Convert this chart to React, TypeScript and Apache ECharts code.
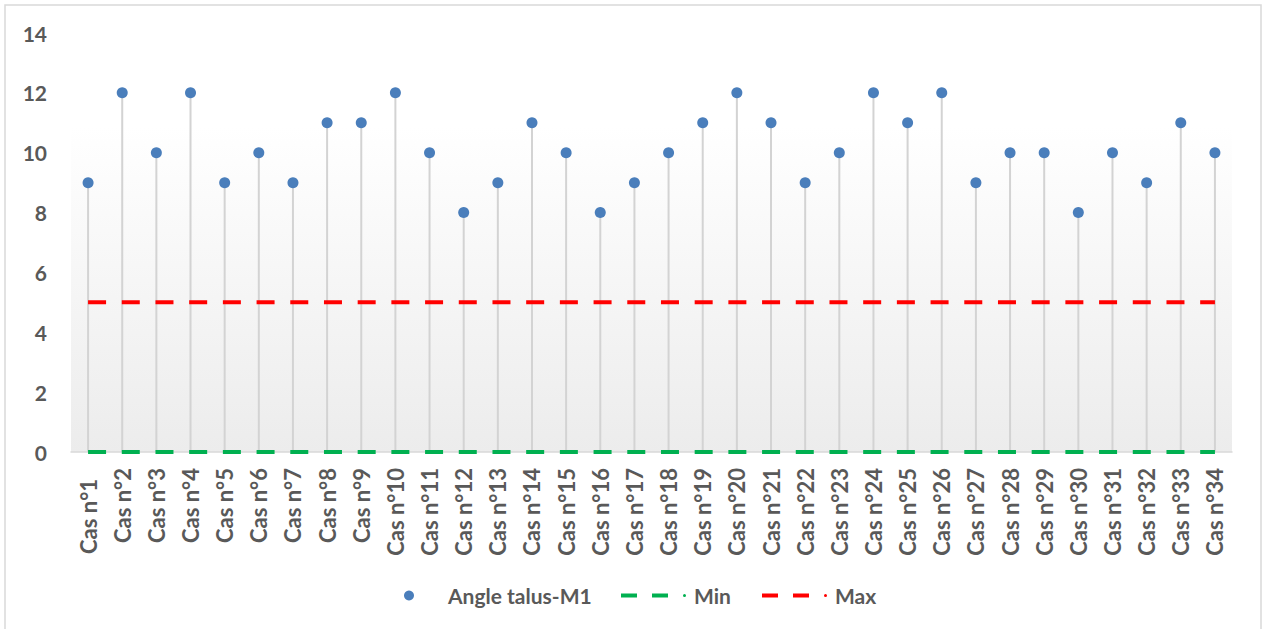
import React, { useEffect, useRef } from "react";
import * as echarts from "echarts";

const categories = [
  "Cas n°1", "Cas n°2", "Cas n°3", "Cas n°4", "Cas n°5", "Cas n°6", "Cas n°7", "Cas n°8", "Cas n°9",
  "Cas n°10", "Cas n°11", "Cas n°12", "Cas n°13", "Cas n°14", "Cas n°15", "Cas n°16", "Cas n°17",
  "Cas n°18", "Cas n°19", "Cas n°20", "Cas n°21", "Cas n°22", "Cas n°23", "Cas n°24", "Cas n°25",
  "Cas n°26", "Cas n°27", "Cas n°28", "Cas n°29", "Cas n°30", "Cas n°31", "Cas n°32", "Cas n°33",
  "Cas n°34",
];

const angleValues = [9, 12, 10, 12, 9, 10, 9, 11, 11, 12, 10, 8, 9, 11, 10, 8, 9, 10, 11, 12, 11, 9, 10, 12, 11, 12, 9, 10, 10, 8, 10, 9, 11, 10];
const minValues = [0, 0, 0, 0, 0, 0, 0, 0, 0, 0, 0, 0, 0, 0, 0, 0, 0, 0, 0, 0, 0, 0, 0, 0, 0, 0, 0, 0, 0, 0, 0, 0, 0, 0];
const maxValues = [5, 5, 5, 5, 5, 5, 5, 5, 5, 5, 5, 5, 5, 5, 5, 5, 5, 5, 5, 5, 5, 5, 5, 5, 5, 5, 5, 5, 5, 5, 5, 5, 5, 5];

const FONT = "Lato";
const TEXT_COLOR = "#595959";
const dashIcon =
  "path://M0,1 L16,1 L16,5 L0,5 Z M31,1 L47,1 L47,5 L31,5 Z M62,3 A1.5,1.5 0 1,0 65,3 A1.5,1.5 0 1,0 62,3 Z";

export default function App() {
  const ref = useRef<HTMLDivElement>(null);

  useEffect(() => {
    if (!ref.current) return;
    const chart = echarts.init(ref.current, null, { renderer: "svg" });
    const labelStyle = { fontFamily: FONT, fontWeight: "bold" as const, color: TEXT_COLOR };
    chart.setOption({
      animation: false,
      backgroundColor: "#ffffff",
      graphic: [
        {
          type: "rect",
          z: -10,
          shape: { x: 5, y: 5, width: 1256, height: 640 },
          style: { fill: "none", stroke: "#d9d9d9", lineWidth: 1.5 },
        },
        {
          type: "rect",
          z: -10,
          shape: { x: 71, y: 127, width: 1161, height: 325 },
          style: {
            fill: new echarts.graphic.LinearGradient(0, 0, 0, 1, [
              { offset: 0, color: "#ffffff" },
              { offset: 1, color: "#ececec" },
            ]),
          },
        },
      ],
      grid: { left: 71, right: 31, top: 33, bottom: 177, containLabel: false },
      xAxis: {
        type: "category",
        data: categories,
        boundaryGap: true,
        axisLine: { show: true, lineStyle: { color: "#d9d9d9", width: 1.5 } },
        axisTick: { show: false },
        splitLine: { show: false },
        axisLabel: {
          ...labelStyle,
          rotate: 90,
          margin: 16,
          fontSize: 22,
          interval: 0,
          formatter: (v: string, i: number) => (i === 0 ? `{first|${v}}` : v),
          rich: {
            first: { ...labelStyle, fontSize: 22, width: 86, align: "left" },
          },
        },
      },
      yAxis: {
        type: "value",
        min: 0,
        max: 14,
        interval: 2,
        axisLine: { show: false },
        axisTick: { show: false },
        splitLine: { show: false },
        axisLabel: { ...labelStyle, margin: 24, fontSize: 21 },
      },
      legend: [
        {
          data: ["Angle talus-M1"],
          left: 399,
          top: 580,
          icon: "circle",
          itemWidth: 10,
          itemHeight: 10,
          selectedMode: false,
          textStyle: { ...labelStyle, fontSize: 21, padding: [0, 0, 0, 29] },
        },
        {
          data: ["Min"],
          left: 616,
          top: 580,
          icon: dashIcon,
          itemWidth: 65,
          itemHeight: 4,
          selectedMode: false,
          itemStyle: { borderWidth: 0 },
          textStyle: { ...labelStyle, fontSize: 21, padding: [0, 0, 0, 3] },
        },
        {
          data: ["Max"],
          left: 757,
          top: 580,
          icon: dashIcon,
          itemWidth: 65,
          itemHeight: 4,
          selectedMode: false,
          itemStyle: { borderWidth: 0 },
          textStyle: { ...labelStyle, fontSize: 21, padding: [0, 0, 0, 3] },
        },
      ],
      series: [
        {
          name: "stem",
          type: "bar",
          data: angleValues,
          barWidth: 2,
          silent: true,
          itemStyle: { color: "#d3d3d3" },
          z: 1,
        },
        {
          name: "Min",
          type: "line",
          data: minValues,
          symbol: "none",
          color: "#00b050",
          lineStyle: { color: "#00b050", width: 4, type: [18, 15.7] },
          z: 3,
        },
        {
          name: "Max",
          type: "line",
          data: maxValues,
          symbol: "none",
          color: "#ff0000",
          lineStyle: { color: "#ff0000", width: 4, type: [18, 15.7] },
          z: 3,
        },
        {
          name: "Angle talus-M1",
          type: "scatter",
          data: angleValues,
          symbol: "circle",
          symbolSize: 11,
          itemStyle: { color: "#4a7ebb", opacity: 1 },
          z: 5,
        },
      ],
    });
    return () => chart.dispose();
  }, []);

  return (
    <div
      ref={ref}
      style={{ position: "fixed", left: 0, top: 0, width: 1263, height: 629, background: "#fff" }}
    />
  );
}
